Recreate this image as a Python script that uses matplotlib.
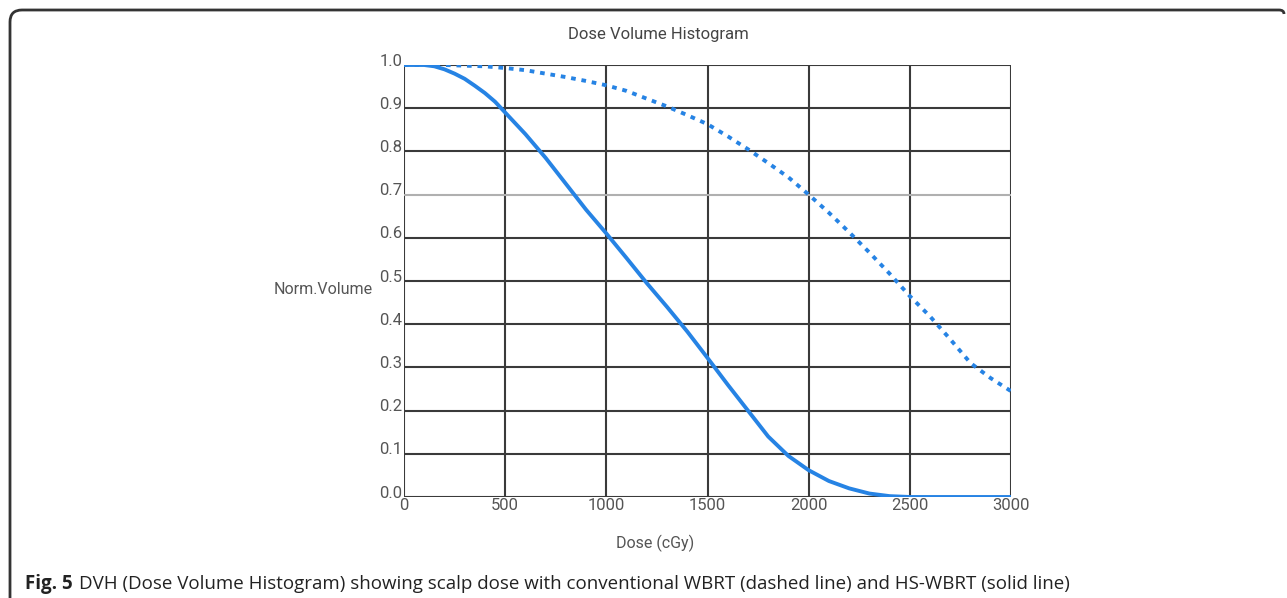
import matplotlib
matplotlib.use("Agg")
import matplotlib.pyplot as plt
from matplotlib.path import Path
from matplotlib.patches import PathPatch
from matplotlib.transforms import ScaledTranslation

# HS-WBRT (solid line)
dose_solid = [0, 100, 150, 200, 250, 300, 350, 400, 450, 500, 600, 700, 800, 900,
              1000, 1100, 1200, 1300, 1400, 1500, 1600, 1700, 1800, 1900, 2000,
              2100, 2200, 2300, 2400, 2500, 3000]
vol_solid = [1.0, 1.0, 0.997, 0.99, 0.98, 0.968, 0.952, 0.935, 0.915, 0.89, 0.84,
             0.785, 0.725, 0.665, 0.61, 0.553, 0.495, 0.44, 0.383, 0.322, 0.26,
             0.2, 0.14, 0.095, 0.062, 0.037, 0.02, 0.008, 0.002, 0.0, 0.0]

# conventional WBRT (dashed line)
dose_dashed = [0, 200, 400, 500, 600, 700, 800, 900, 1000, 1100, 1200, 1300, 1400,
               1500, 1600, 1700, 1800, 1900, 2000, 2100, 2200, 2300, 2400, 2500,
               2600, 2700, 2800, 2900, 3000]
vol_dashed = [1.0, 1.0, 0.997, 0.993, 0.988, 0.98, 0.972, 0.963, 0.953, 0.94, 0.922,
              0.904, 0.884, 0.863, 0.835, 0.805, 0.773, 0.74, 0.70, 0.658, 0.613,
              0.566, 0.517, 0.465, 0.418, 0.365, 0.31, 0.275, 0.245]

x_ticks = [0, 500, 1000, 1500, 2000, 2500, 3000]
y_ticks = [0.0, 0.1, 0.2, 0.3, 0.4, 0.5, 0.6, 0.7, 0.8, 0.9, 1.0]

W, H = 1287, 598
blue = "#2683e4"
grey_txt = "#555555"
chart_font = ["Roboto", "DejaVu Sans"]

fig = plt.figure(figsize=(W / 100, H / 100), dpi=100)


def fx(px):
    return px / W


def fy(py):
    return 1 - py / H


ax = fig.add_axes([fx(404), fy(497), fx(1011) - fx(404), fy(65) - fy(497)])
ax.set_xlim(0, 3000)
ax.set_ylim(0, 1.0)

# grid lines (0.7 one is lighter in the original)
for xv in x_ticks:
    ax.axvline(xv, color="#3a3a3a", lw=1.5, zorder=1)
for yv in y_ticks:
    c = "#b0b0b0" if abs(yv - 0.7) < 1e-9 else "#3a3a3a"
    ax.axhline(yv, color=c, lw=1.5, zorder=1)

ax.plot(dose_solid, vol_solid, color=blue, lw=2.8, zorder=3)
ax.plot(dose_dashed, vol_dashed, color=blue, lw=2.8, linestyle=(0, (1.2, 1.5)),
        zorder=3)

for s in ax.spines.values():
    s.set_visible(False)
ax.set_xticks(x_ticks)
ax.set_yticks(y_ticks)
ax.set_xticklabels([str(v) for v in x_ticks])
ax.set_yticklabels(["%.1f" % v for v in y_ticks])
ax.tick_params(length=0, pad=1, labelsize=12, labelcolor=grey_txt)
for lab in ax.get_xticklabels() + ax.get_yticklabels():
    lab.set_family(chart_font)
shift = ScaledTranslation(0, 4 / 100, fig.dpi_scale_trans)
for lab in ax.get_yticklabels():
    lab.set_va("center")
    lab.set_transform(lab.get_transform() + shift)

fig.text(fx(658), fy(35), "Dose Volume Histogram", ha="center", va="center",
         fontsize=12, color="#444444", family=chart_font)
fig.text(fx(373), fy(290), "Norm.Volume", ha="right", va="center",
         fontsize=11.5, color=grey_txt, family=chart_font)
fig.text(fx(655), fy(543), "Dose (cGy)", ha="center", va="center",
         fontsize=11.5, color=grey_txt, family=chart_font)

# caption
t1 = fig.text(fx(25), fy(589), "Fig. 5", ha="left", va="baseline", fontsize=13.5,
              fontweight="bold", color="#222222", family="Open Sans")
fig.canvas.draw()
bb = t1.get_window_extent()
fig.text(bb.x1 / W + fx(6), fy(589),
         "DVH (Dose Volume Histogram) showing scalp dose with conventional WBRT "
         "(dashed line) and HS-WBRT (solid line)",
         ha="left", va="baseline", fontsize=13.5, color="#222222", family="Open Sans")

# rounded frame: left side, top, small curl at the right
r = 12
verts = [(10, H), (10, 10 + r), (10, 10), (10 + r, 10), (W - 8, 10), (W - 3, 10),
         (W - 3, 14)]
codes = [Path.MOVETO, Path.LINETO, Path.CURVE3, Path.CURVE3, Path.LINETO,
         Path.CURVE3, Path.CURVE3]
verts = [(fx(a), fy(b)) for a, b in verts]
fig.add_artist(PathPatch(Path(verts, codes), fill=False, lw=2.0, ec="#333333",
                         transform=fig.transFigure))

fig.savefig("out.png", dpi=100)
